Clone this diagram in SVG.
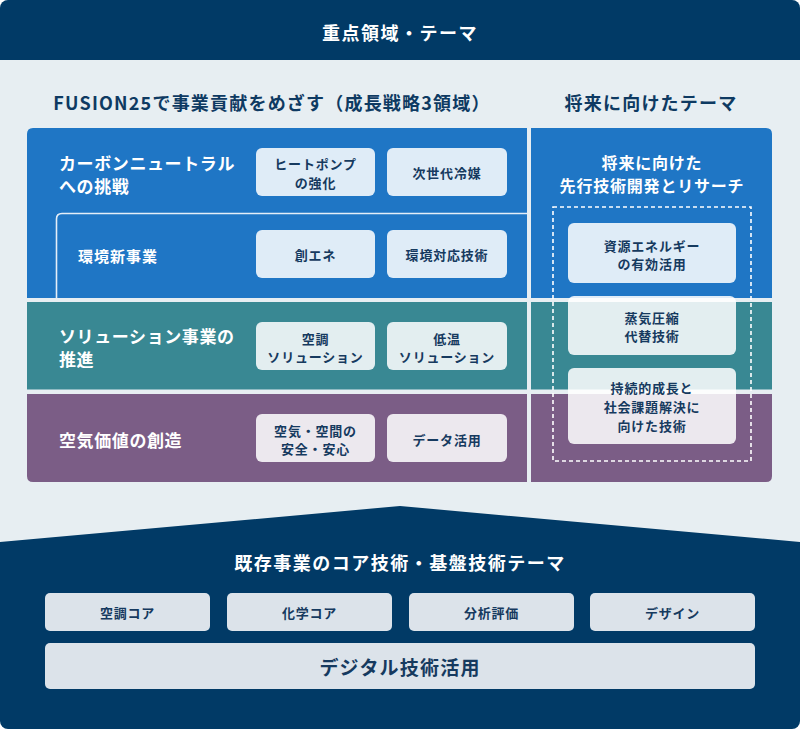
<svg xmlns="http://www.w3.org/2000/svg" width="800" height="729" viewBox="0 0 800 729">
<defs>
<clipPath id="clip"><rect x="0" y="0" width="800" height="729" rx="8"/></clipPath>
<style>
text{font-family:"Noto Sans CJK JP","Noto Sans",sans-serif;font-weight:700;dominant-baseline:central;}
.wt{fill:#ffffff;}
.h1{font-size:18px;letter-spacing:1.5px;text-anchor:middle;}
.sec{font-size:18px;letter-spacing:1.2px;text-anchor:middle;fill:#0E3A62;}
.lbl{font-size:17px;letter-spacing:0.6px;fill:#ffffff;}
.lbl2{font-size:15px;letter-spacing:1px;fill:#ffffff;}
.bt{font-size:13px;letter-spacing:0.8px;text-anchor:middle;fill:#163A5F;}
.box{fill:#ffffff;fill-opacity:0.86;}
.bbox{fill:#DCE3EA;}
.rt{font-size:16px;letter-spacing:0.8px;text-anchor:middle;fill:#ffffff;}
</style>
</defs>
<g clip-path="url(#clip)">
<rect x="0" y="0" width="800" height="729" fill="#E7EEF2"/>
<g id="header">
<rect x="0" y="0" width="800" height="60" fill="#013A66"/>
<text class="h1 wt" x="400" y="32">重点領域・テーマ</text>
</g>
<g id="section-titles">
<text class="sec" x="272" y="102">FUSION25で事業貢献をめざす（成長戦略3領域）</text>
<text class="sec" x="651" y="102">将来に向けたテーマ</text>
</g>
<g id="panels">
<path d="M27,134 Q27,128 33,128 H527 V298 H27 Z" fill="#1F76C5"/>
<rect x="27" y="302" width="500" height="87.5" fill="#398893"/>
<path d="M27,394 H527 V482 H33 Q27,482 27,476 Z" fill="#7B5D86"/>
<path d="M531,128 H766 Q772,128 772,134 V298 H531 Z" fill="#1F76C5"/>
<rect x="531" y="302" width="241" height="87.5" fill="#398893"/>
<path d="M531,394 H772 V476 Q772,482 766,482 H531 Z" fill="#7B5D86"/>
</g>
<g id="connectors">
<path d="M56.5,298 V219 Q56.5,213.5 62,213.5 H527" fill="none" stroke="#E4EEF8" stroke-width="1.6"/>
<rect x="553" y="207" width="198" height="254" fill="none" stroke="#ffffff" stroke-width="1.6" stroke-dasharray="4 3"/>
</g>
<g id="carbon-neutral">
<text class="lbl" x="59" y="162">カーボンニュートラル</text>
<text class="lbl" x="59" y="185">への挑戦</text>
</g>
<g id="heat-pump">
<rect class="box" x="256" y="148" width="119" height="48" rx="6"/>
<text class="bt" x="315.5" y="163">ヒートポンプ</text>
<text class="bt" x="315.5" y="182">の強化</text>
</g>
<g id="refrigerant">
<rect class="box" x="387" y="148" width="120" height="48" rx="6"/>
<text class="bt" x="447" y="172">次世代冷媒</text>
</g>
<g id="env-business">
<text class="lbl2" x="78" y="255">環境新事業</text>
</g>
<g id="energy-creation">
<rect class="box" x="256" y="230" width="119" height="48" rx="6"/>
<text class="bt" x="315.5" y="254">創エネ</text>
</g>
<g id="env-tech">
<rect class="box" x="387" y="230" width="120" height="48" rx="6"/>
<text class="bt" x="447" y="254">環境対応技術</text>
</g>
<g id="solution">
<text class="lbl" x="59" y="335">ソリューション事業の</text>
<text class="lbl" x="59" y="358">推進</text>
</g>
<g id="ac-solution">
<rect class="box" x="256" y="322" width="119" height="48" rx="6"/>
<text class="bt" x="315.5" y="338">空調</text>
<text class="bt" x="315.5" y="356">ソリューション</text>
</g>
<g id="lowtemp-solution">
<rect class="box" x="387" y="322" width="120" height="48" rx="6"/>
<text class="bt" x="447" y="338">低温</text>
<text class="bt" x="447" y="356">ソリューション</text>
</g>
<g id="air-value">
<text class="lbl" x="59" y="439">空気価値の創造</text>
</g>
<g id="air-safety">
<rect class="box" x="256" y="414" width="119" height="48" rx="6"/>
<text class="bt" x="315.5" y="430">空気・空間の</text>
<text class="bt" x="315.5" y="448">安全・安心</text>
</g>
<g id="data-use">
<rect class="box" x="387" y="414" width="120" height="48" rx="6"/>
<text class="bt" x="447" y="439">データ活用</text>
</g>
<g id="future-research">
<text class="rt" x="652" y="162">将来に向けた</text>
<text class="rt" x="652" y="185">先行技術開発とリサーチ</text>
</g>
<g id="resource-energy">
<rect class="box" x="568" y="223" width="168" height="60" rx="6"/>
<text class="bt" x="652" y="245">資源エネルギー</text>
<text class="bt" x="652" y="263">の有効活用</text>
</g>
<g id="vapor-compression">
<rect class="box" x="568" y="296" width="168" height="59" rx="6"/>
<text class="bt" x="652" y="317">蒸気圧縮</text>
<text class="bt" x="652" y="335">代替技術</text>
</g>
<g id="sustainable">
<rect class="box" x="568" y="368" width="168" height="76" rx="6"/>
<text class="bt" x="652" y="387">持続的成長と</text>
<text class="bt" x="652" y="406">社会課題解決に</text>
<text class="bt" x="652" y="425">向けた技術</text>
</g>
<g id="core-base">
<path d="M0,542 L400,506 L800,542 V729 H0 Z" fill="#013A66"/>
<text class="h1 wt" x="400" y="562">既存事業のコア技術・基盤技術テーマ</text>
</g>
<g id="ac-core">
<rect class="bbox" x="45" y="593" width="165" height="38" rx="5"/>
<text class="bt" x="127.5" y="612">空調コア</text>
</g>
<g id="chem-core">
<rect class="bbox" x="227" y="593" width="165" height="38" rx="5"/>
<text class="bt" x="309.5" y="612">化学コア</text>
</g>
<g id="analysis">
<rect class="bbox" x="409" y="593" width="165" height="38" rx="5"/>
<text class="bt" x="491.5" y="612">分析評価</text>
</g>
<g id="design">
<rect class="bbox" x="590" y="593" width="165" height="38" rx="5"/>
<text class="bt" x="672.5" y="612">デザイン</text>
</g>
<g id="digital">
<rect class="bbox" x="45" y="643" width="710" height="46" rx="5"/>
<text class="bt" x="400" y="666" style="font-size:19px;letter-spacing:1.2px">デジタル技術活用</text>
</g>
</g>
</svg>
